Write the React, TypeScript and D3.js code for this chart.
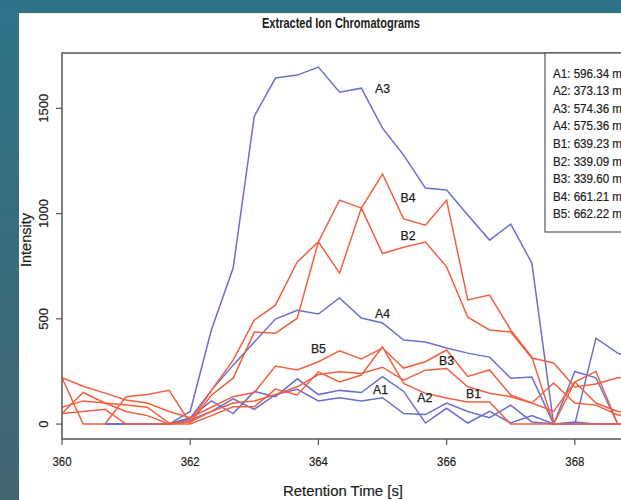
import React from "react";
import * as d3 from "d3";

// Retention times (s), sampled every third of a second
const times = [
  360.0, 360.33, 360.67, 361.0, 361.33, 361.67, 362.0, 362.33, 362.67, 363.0,
  363.33, 363.67, 364.0, 364.33, 364.67, 365.0, 365.33, 365.67, 366.0, 366.33,
  366.67, 367.0, 367.33, 367.67, 368.0, 368.33, 368.67, 369.0,
];

// Extracted ion intensities per trace (null = no scan recorded)
const A1 = [null, null, 0, 0, 0, 0, 30, 110, 50, 155, 130, 215, 140, 160, 150, 225, 155, 5, 75, 5, 60, 5, 40, 0, 10, 0, 0, 0];
const A2 = [null, null, 0, 0, 0, 0, 20, 60, 120, 70, 140, 165, 110, 125, 110, 125, 50, 45, 100, 60, 30, 90, 10, 0, 250, 220, 0, 0];
const A3 = [null, null, 0, 0, 0, 0, 60, 447, 741, 1463, 1644, 1658, 1696, 1577, 1596, 1406, 1278, 1121, 1112, 993, 874, 950, 765, 0, 0, 0, 0, 0];
const A4 = [null, null, 0, 0, 0, 0, 28, 160, 280, 390, 499, 541, 523, 599, 504, 480, 399, 390, 361, 337, 318, 218, 223, 0, 0, 408, 337, 300];
const B1 = [50, 150, 100, 60, 40, 0, 0, 40, 82, 82, 166, 138, 248, 200, 233, 367, 193, 146, 124, 105, 105, 0, 0, 0, 0, 0, 0, 0];
const B2 = [220, 0, 0, 130, 140, 160, 5, 137, 218, 437, 432, 503, 866, 717, 1026, 810, 840, 865, 747, 508, 447, 437, 314, 290, 176, 190, 220, 230];
const B3 = [80, 110, 100, 90, 80, 5, 10, 60, 100, 110, 140, 177, 235, 248, 240, 270, 209, 256, 264, 177, 146, 130, 100, 60, 200, 100, 60, 50];
const B4 = [50, 60, 70, 0, 0, 0, 10, 160, 304, 494, 565, 770, 866, 1064, 1026, 1188, 975, 945, 1064, 590, 613, 447, 318, 0, 200, 250, 0, 0];
const B5 = [220, 180, 147, 114, 100, 60, 30, 80, 130, 150, 276, 257, 296, 348, 309, 361, 266, 296, 352, 226, 257, 138, 100, 195, 100, 90, 43, 40];

const seriesNames = ["A1", "A2", "A3", "A4", "B1", "B2", "B3", "B4", "B5"];
const seriesValues = [A1, A2, A3, A4, B1, B2, B3, B4, B5];
const legendLabels = [
  "A1: 596.34 m/z",
  "A2: 373.13 m/z",
  "A3: 574.36 m/z",
  "A4: 575.36 m/z",
  "B1: 639.23 m/z",
  "B2: 339.09 m/z",
  "B3: 339.60 m/z",
  "B4: 661.21 m/z",
  "B5: 662.22 m/z",
];

// In-plot trace labels: [name, time, intensity]
const traceLabels: [string, number, number][] = [
  ["A3", 365.0, 1596],
  ["B4", 365.4, 1078],
  ["B2", 365.4, 898],
  ["A4", 365.0, 527],
  ["B5", 364.0, 361],
  ["B3", 366.0, 304],
  ["A1", 364.97, 162],
  ["A2", 365.66, 124],
  ["B1", 366.42, 147],
];

const xTicks = [360, 362, 364, 366, 368];
const yTicks = [0, 500, 1000, 1500];

const BLUE = "#6a6fcf";
const RED = "#f2603f";
const INK = "#1c1c1c";
const FONT = "'Liberation Sans', Arial, Helvetica, sans-serif";

const W = 621;
const H = 500;
const plot = { left: 62, top: 53, right: 703, bottom: 439 };

export default function App() {
  const x = d3.scaleLinear().domain([360, 370]).range([plot.left, plot.right]);
  const y = d3.scaleLinear().domain([-71, 1763]).range([plot.bottom, plot.top]);

  const line = d3
    .line<number | null>()
    .defined((d) => d != null)
    .x((_, i) => x(times[i]))
    .y((d) => y(d as number));

  return (
    <svg
      width={W}
      height={H}
      style={{ position: "absolute", left: 0, top: 0, display: "block" }}
      fontFamily={FONT}
    >
      <defs>
        <linearGradient id="frame" x1="0" y1="0" x2="0" y2="1">
          <stop offset="0" stopColor="#2e7489" />
          <stop offset="1" stopColor="#436571" />
        </linearGradient>
        <clipPath id="plotClip">
          <rect x={plot.left} y={plot.top} width={plot.right - plot.left} height={plot.bottom - plot.top} />
        </clipPath>
      </defs>

      <rect x={0} y={0} width={W} height={H} fill="url(#frame)" />
      <rect x={19} y={13} width={W - 19} height={H - 13} fill="#ffffff" />
      <line x1={19} x2={W} y1={13.5} y2={13.5} stroke="#f3ecd2" strokeWidth={1} />

      {/* title */}
      <text
        x={341}
        y={28}
        textAnchor="middle"
        fontSize={15}
        fontWeight="bold"
        fill={INK}
        textLength={158}
        lengthAdjust="spacingAndGlyphs"
      >
        Extracted Ion Chromatograms
      </text>

      {/* traces */}
      <g clipPath="url(#plotClip)" fill="none" strokeWidth={1.5} strokeLinejoin="miter">
        {seriesValues.map((vals, i) => (
          <path
            key={seriesNames[i]}
            d={line(vals) ?? ""}
            stroke={seriesNames[i].startsWith("A") ? BLUE : RED}
          />
        ))}
      </g>

      {/* trace labels */}
      <g fontSize={12} fill={INK} stroke={INK} strokeWidth={0.25} textAnchor="middle">
        {traceLabels.map(([name, t, v]) => (
          <text
            key={name}
            x={x(t)}
            y={y(v) + 4.5}
            textLength={15}
            lengthAdjust="spacingAndGlyphs"
          >
            {name}
          </text>
        ))}
      </g>

      {/* plot frame */}
      <rect
        x={plot.left}
        y={plot.top}
        width={plot.right - plot.left}
        height={plot.bottom - plot.top}
        fill="none"
        stroke="#555"
        strokeWidth={1.5}
      />

      {/* x axis */}
      <g fontSize={13} fill={INK} stroke={INK} strokeWidth={0.2} textAnchor="middle">
        {xTicks.map((t) => (
          <g key={t}>
            <line x1={x(t)} x2={x(t)} y1={plot.bottom} y2={plot.bottom + 6} stroke="#555" strokeWidth={1.2} />
            <text x={x(t)} y={466} textLength={19} lengthAdjust="spacingAndGlyphs">
              {t}
            </text>
          </g>
        ))}
      </g>
      <text
        x={343}
        y={496}
        textAnchor="middle"
        fontSize={15}
        fill={INK}
        stroke={INK}
        strokeWidth={0.2}
        textLength={120}
        lengthAdjust="spacingAndGlyphs"
      >
        Retention Time [s]
      </text>

      {/* y axis */}
      <g fontSize={13} fill={INK} stroke={INK} strokeWidth={0.2} textAnchor="middle">
        {yTicks.map((v) => (
          <g key={v}>
            <line x1={plot.left - 6} x2={plot.left} y1={y(v)} y2={y(v)} stroke="#555" strokeWidth={1.2} />
            <text transform={`translate(48,${y(v)}) rotate(-90)`}>{v}</text>
          </g>
        ))}
      </g>
      <text
        transform={`translate(31,${240}) rotate(-90)`}
        textAnchor="middle"
        fontSize={14.5}
        fill={INK}
        stroke={INK}
        strokeWidth={0.2}
      >
        Intensity
      </text>

      {/* legend */}
      <rect x={545} y={plot.top} width={160} height={179} fill="#fff" stroke="#555" strokeWidth={1.2} />
      <g fontSize={12} fill={INK} stroke={INK} strokeWidth={0.2}>
        {legendLabels.map((lab, i) => (
          <text key={lab} x={553} y={73 + i * 17.6 + 4.5} textLength={78} lengthAdjust="spacingAndGlyphs">
            {lab}
          </text>
        ))}
      </g>
    </svg>
  );
}
